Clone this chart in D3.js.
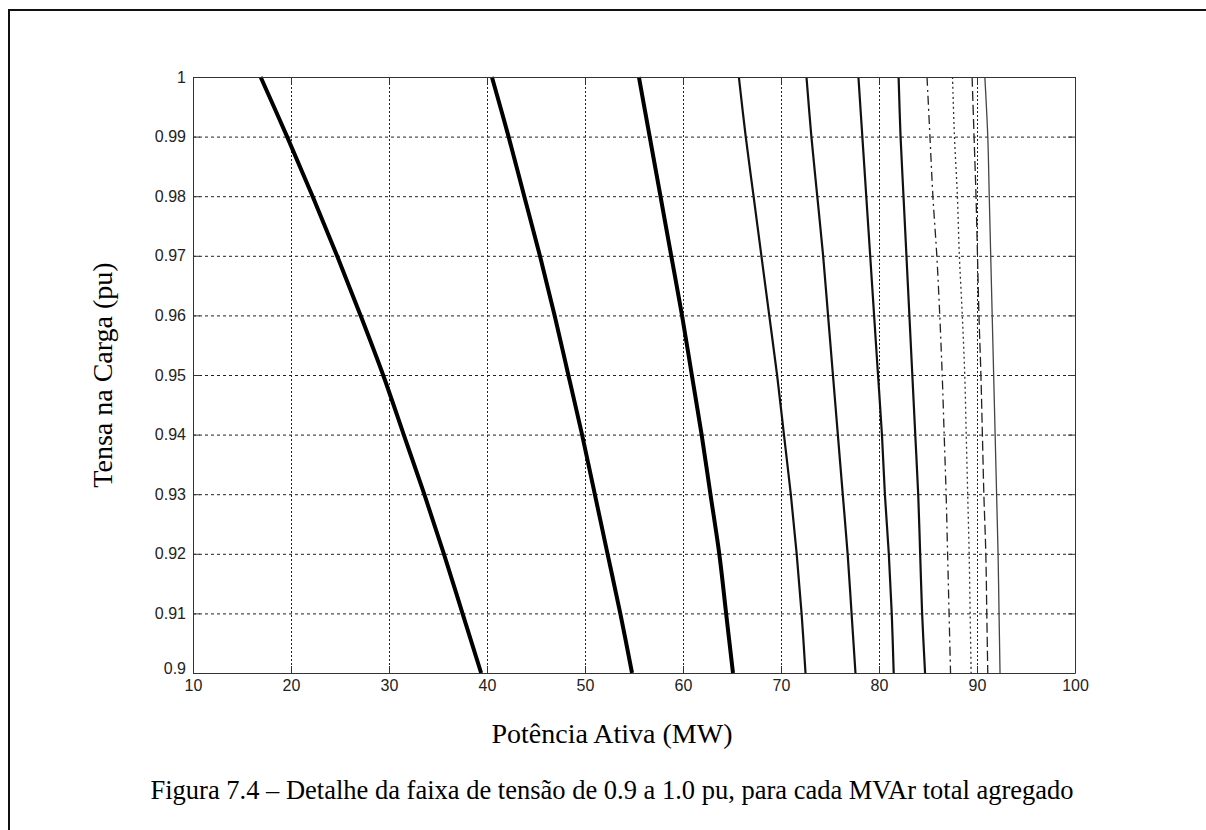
<!DOCTYPE html>
<html>
<head>
<meta charset="utf-8">
<script src="https://cdn.jsdelivr.net/npm/d3@7"></script>
<style>
  body { margin: 0; background: #fff; }
  svg { display: block; }
</style>
</head>
<body>
<div id="fig"></div>
<script>
// tensao na carga (pu) where each curve was read
const tensao = [1.0, 0.99, 0.98, 0.97, 0.96, 0.95, 0.94, 0.93, 0.92, 0.91, 0.9];

// potencia ativa (MW) for each MVAr level, read at the values above
const curva1 = [16.9, 19.6, 22.2, 24.7, 27.1, 29.4, 31.5, 33.6, 35.6, 37.5, 39.4];
const curva2 = [40.5, 42.2, 43.8, 45.4, 46.9, 48.3, 49.7, 51.0, 52.3, 53.6, 54.8];
const curva3 = [55.5, 56.6, 57.7, 58.8, 59.9, 60.9, 61.9, 62.8, 63.7, 64.4, 65.1];
const curva4 = [65.7, 66.4, 67.2, 68.0, 68.8, 69.6, 70.3, 71.0, 71.6, 72.1, 72.5];
const curva5 = [72.6, 73.1, 73.7, 74.3, 74.8, 75.3, 75.8, 76.3, 76.8, 77.2, 77.6];
const curva6 = [77.9, 78.3, 78.7, 79.1, 79.5, 79.9, 80.3, 80.6, 81.0, 81.3, 81.5];
const curva7 = [82.0, 82.2, 82.5, 82.8, 83.1, 83.4, 83.7, 84.0, 84.2, 84.4, 84.7];
const curva8 = [84.9, 85.2, 85.5, 85.9, 86.2, 86.45, 86.65, 86.85, 87.0, 87.15, 87.3];
const curva9 = [87.5, 87.7, 88.0, 88.2, 88.5, 88.75, 88.9, 89.05, 89.2, 89.3, 89.4];
const curva10 = [89.5, 89.7, 89.9, 90.05, 90.2, 90.4, 90.55, 90.7, 90.9, 91.0, 91.1];
const curva11 = [90.8, 91.1, 91.25, 91.4, 91.55, 91.7, 91.85, 92.0, 92.15, 92.25, 92.35];

const xTicks = [10, 20, 30, 40, 50, 60, 70, 80, 90, 100];
const yTicks = [0.9, 0.91, 0.92, 0.93, 0.94, 0.95, 0.96, 0.97, 0.98, 0.99, 1];

const xTitle = 'Potência Ativa (MW)';
const yTitle = 'Tensa na Carga (pu)';
const caption = 'Figura 7.4 – Detalhe da faixa de tensão de 0.9 a 1.0 pu, para cada MVAr total agregado';

// -----------------------------------------------
const W = 1206, H = 830;
const plot = { left: 193, right: 1075, top: 77, bottom: 673 };

// line styles, one per curve (matlab-ish)
const curves = [
  { v: curva1, w: 4, dash: null, c: '#000' },
  { v: curva2, w: 4, dash: null, c: '#000' },
  { v: curva3, w: 4, dash: null, c: '#000' },
  { v: curva4, w: 2.2, dash: null, c: '#111' },
  { v: curva5, w: 2.2, dash: null, c: '#111' },
  { v: curva6, w: 2.2, dash: null, c: '#111' },
  { v: curva7, w: 2.2, dash: null, c: '#111' },
  { v: curva8, w: 1.3, dash: '9,4,2,4', c: '#222' },
  { v: curva9, w: 1.3, dash: '2,3', c: '#333' },
  { v: curva10, w: 1.3, dash: '10,4', c: '#222' },
  { v: curva11, w: 1.3, dash: null, c: '#444' },
];

const svg = d3.select('#fig').append('svg')
  .attr('width', W).attr('height', H);

// page frame (only left and top edges are visible)
svg.append('path')
  .attr('d', `M9,${H} L9,10 L${W},10`)
  .attr('fill', 'none')
  .attr('stroke', '#111')
  .attr('stroke-width', 2);

const x = d3.scaleLinear().domain([10, 100]).range([plot.left, plot.right]);
const y = d3.scaleLinear().domain([0.9, 1]).range([plot.bottom, plot.top]);

// grid
svg.append('g')
  .attr('transform', `translate(0,${plot.bottom})`)
  .call(d3.axisBottom(x).tickValues(xTicks).tickSize(-(plot.bottom - plot.top)).tickFormat(''))
  .call((g) => g.select('.domain').remove())
  .call((g) => g.selectAll('line')
    .attr('stroke', '#222').attr('stroke-width', 1).attr('stroke-dasharray', '2,2'));

svg.append('g')
  .attr('transform', `translate(${plot.left},0)`)
  .call(d3.axisLeft(y).tickValues(yTicks).tickSize(-(plot.right - plot.left)).tickFormat(''))
  .call((g) => g.select('.domain').remove())
  .call((g) => g.selectAll('line')
    .attr('stroke', '#222').attr('stroke-width', 1).attr('stroke-dasharray', '3,3'));

// curves
const line = d3.line()
  .x((d) => x(d[0]))
  .y((d) => y(d[1]))
  .curve(d3.curveCatmullRom.alpha(0.5));

svg.append('g')
  .selectAll('path')
  .data(curves)
  .join('path')
  .attr('d', (d) => line(d.v.map((p, i) => [p, tensao[i]])))
  .attr('fill', 'none')
  .attr('stroke', (d) => d.c)
  .attr('stroke-width', (d) => d.w)
  .attr('stroke-linejoin', 'round')
  .attr('stroke-dasharray', (d) => d.dash);

// axes, ticks pointing inward
const tickFont = (g) => g.selectAll('text')
  .attr('font-family', '"Liberation Sans", Arial, sans-serif')
  .attr('font-size', 16)
  .attr('fill', '#222');

const yFmt = (d) => (d === 1 ? '1' : d3.format('.2~f')(d));

svg.append('g')
  .attr('transform', `translate(0,${plot.bottom})`)
  .call(d3.axisBottom(x).tickValues(xTicks).tickSizeInner(-7).tickSizeOuter(0).tickPadding(8).tickFormat(d3.format('d')))
  .call(tickFont)
  .call((g) => g.selectAll('text').attr('dy', '0.8em').attr('y', 5))
  .call((g) => g.selectAll('line,path').attr('stroke', '#333'));

svg.append('g')
  .attr('transform', `translate(0,${plot.top})`)
  .call(d3.axisTop(x).tickValues(xTicks).tickSizeInner(-7).tickSizeOuter(0).tickFormat(''))
  .call((g) => g.selectAll('line,path').attr('stroke', '#333'));

svg.append('g')
  .attr('transform', `translate(${plot.left},0)`)
  .call(d3.axisLeft(y).tickValues(yTicks).tickSizeInner(-7).tickSizeOuter(0).tickPadding(7).tickFormat(yFmt))
  .call(tickFont)
  .call((g) => g.selectAll('text').filter((d) => d === 0.9).attr('dy', '0.05em'))
  .call((g) => g.selectAll('line,path').attr('stroke', '#333'));

svg.append('g')
  .attr('transform', `translate(${plot.right},0)`)
  .call(d3.axisRight(y).tickValues(yTicks).tickSizeInner(-7).tickSizeOuter(0).tickFormat(''))
  .call((g) => g.selectAll('line,path').attr('stroke', '#333'));

// titles
const serif = '"Liberation Serif", "Times New Roman", serif';

svg.append('text')
  .attr('x', (plot.left + plot.right) / 2 - 22)
  .attr('y', 743)
  .attr('text-anchor', 'middle')
  .attr('font-family', serif)
  .attr('font-size', 28)
  .attr('fill', '#000')
  .text(xTitle);

svg.append('text')
  .attr('transform', `translate(112,${(plot.top + plot.bottom) / 2}) rotate(-90)`)
  .attr('text-anchor', 'middle')
  .attr('font-family', serif)
  .attr('font-size', 28)
  .attr('fill', '#000')
  .text(yTitle);

svg.append('text')
  .attr('x', 612)
  .attr('y', 799)
  .attr('text-anchor', 'middle')
  .attr('font-family', serif)
  .attr('font-size', 26.5)
  .attr('fill', '#000')
  .text(caption);
</script>
</body>
</html>
